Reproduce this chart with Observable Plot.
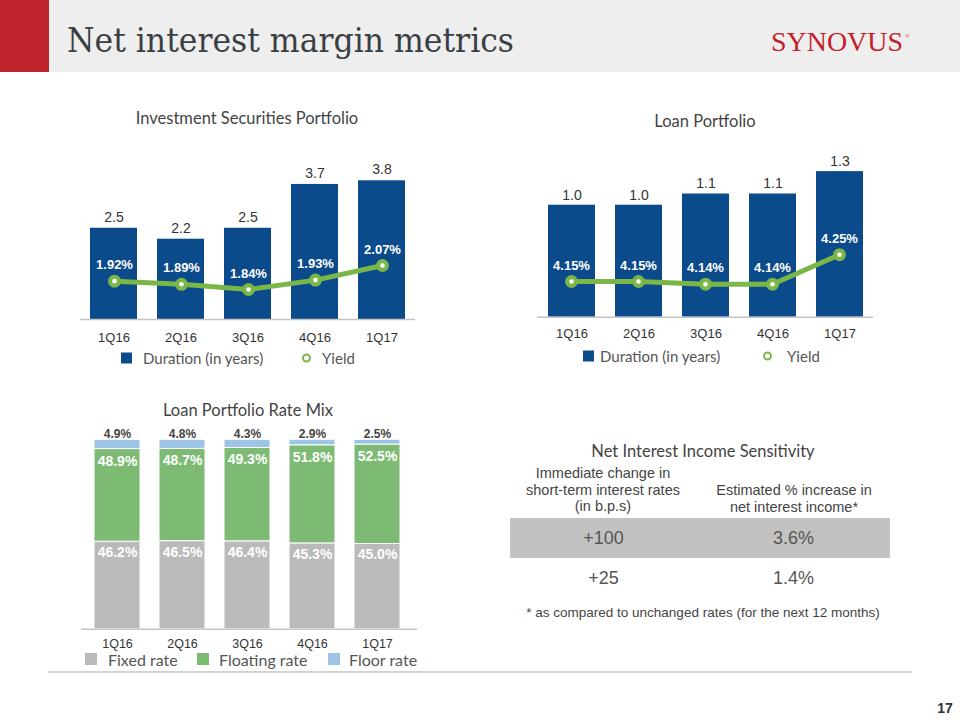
<!DOCTYPE html>
<html><head><meta charset="utf-8">
<script src="https://cdn.jsdelivr.net/npm/d3@7"></script>
<script src="https://cdn.jsdelivr.net/npm/@observablehq/plot@0.6"></script>
<style>
body{margin:0;background:#fff;}
#page{position:relative;width:960px;height:720px;overflow:hidden;font-family:Lato,"Liberation Sans",Arial,sans-serif;}
.c{position:absolute;transform:translate(-50%,-50%);white-space:nowrap;}
.l{position:absolute;transform:translateY(-50%);white-space:nowrap;}
.ttl{font-family:Lato,sans-serif;font-size:16.5px;color:#444;}
.leg{font-family:Lato,sans-serif;font-size:15px;color:#555;}
.tab{font-family:"Liberation Sans",Arial,sans-serif;font-size:14.5px;color:#444;}
svg{overflow:visible;}
</style></head>
<body><div id="page"></div>
<script>
// ---------------- data ----------------
const quarters = ["1Q16","2Q16","3Q16","4Q16","1Q17"];
const invDuration = [2.5, 2.2, 2.5, 3.7, 3.8];
const invYield = [1.92, 1.89, 1.84, 1.93, 2.07];
const loanDuration = [1.0, 1.0, 1.1, 1.1, 1.3];
const loanYield = [4.15, 4.15, 4.14, 4.14, 4.25];
const fixedRate = [46.2, 46.5, 46.4, 45.3, 45.0];
const floatingRate = [48.9, 48.7, 49.3, 51.8, 52.5];
const floorRate = [4.9, 4.8, 4.3, 2.9, 2.5];
const mixSeries = ["Fixed rate", "Floating rate", "Floor rate"];
const rateChange = ["+100", "+25"];
const niiIncrease = ["3.6%", "1.4%"];
const tableCols = ["Immediate change in short-term interest rates (in b.p.s)", "Estimated % increase in net interest income*"];
const headerCol1 = ["Immediate change in", "short-term interest rates", "(in b.p.s)"];
const headerCol2 = ["Estimated % increase in", "net interest income*"];
const footnote = "* as compared to unchanged rates (for the next 12 months)";

const navy = "#0b4a8b", green = "#7ab648";
const mixColors = ["#bababa", "#7dbb75", "#9dc3e6"];
const numFont = "Liberation Sans, Arial, sans-serif";

const page = document.getElementById("page");
function add(el, left, top) { el.style.position = "absolute"; el.style.left = left + "px"; el.style.top = top + "px"; page.appendChild(el); return el; }
function div(html, cls, x, y, extra) { const d = document.createElement("div"); d.className = cls; d.innerHTML = html; d.style.left = x + "px"; d.style.top = y + "px"; if (extra) Object.assign(d.style, extra); page.appendChild(d); return d; }

// ---------------- header ----------------
const hdr = document.createElement("div");
hdr.innerHTML = `<svg width="960" height="72" xmlns="http://www.w3.org/2000/svg">
<rect width="960" height="72" fill="#eeeeee"/>
<rect width="49" height="72" fill="#c0222b"/>
<text x="67" y="52" font-family="DejaVu Serif, serif" font-size="34" fill="#3a3f44" textLength="447" lengthAdjust="spacingAndGlyphs">Net interest margin metrics</text>
<text x="771" y="51" font-family="Liberation Serif, serif" font-size="27" fill="#c41e2b" textLength="132" lengthAdjust="spacingAndGlyphs">SYNOVUS</text>
<text x="905" y="38" font-family="Liberation Serif, serif" font-size="6" fill="#c41e2b">®</text>
</svg>`;
add(hdr, 0, 0);

// ---------------- duration + yield charts ----------------
function durationChart(dur, yld, o) {
  const data = quarters.map((q, i) => ({q, d: dur[i], y: yld[i]}));
  const common = {
    width: 370, height: 200, marginTop: 0, marginBottom: o.mb, marginLeft: o.ml, marginRight: o.mr,
    style: {background: "transparent", color: "#333", overflow: "visible"}
  };
  const bars = Plot.plot({
    ...common,
    x: {domain: quarters, paddingInner: 0.3, paddingOuter: 0.15, label: null},
    y: {domain: [0, o.ymax], axis: null},
    marks: [
      Plot.barY(data, {x: "q", y: "d", fill: navy}),
      Plot.ruleY([0], {stroke: "#c4c4c4", strokeWidth: 1.5}),
      Plot.text(data, {x: "q", y: "d", text: d => d.d.toFixed(1), dy: o.dy, fontSize: 14, fill: "#333", fontFamily: numFont}),
      Plot.axisX({tickSize: 0, tickPadding: o.tp, fontSize: 13, fontFamily: numFont, label: null})
    ]
  });
  const line = Plot.plot({
    ...common,
    x: {domain: quarters, paddingInner: 0.3, paddingOuter: 0.15, axis: null},
    y: {domain: o.ydom, axis: null},
    marks: [
      Plot.line(data, {x: "q", y: "y", stroke: green, strokeWidth: 5}),
      Plot.dot(data, {x: "q", y: "y", r: 6.5, fill: green}),
      Plot.dot(data, {x: "q", y: "y", r: 2.3, fill: "white"}),
      Plot.text(data, {x: "q", y: "y", text: d => d.y.toFixed(2) + "%", dy: -16, fill: "white", fontWeight: "bold", fontSize: 13, fontFamily: numFont})
    ]
  });
  add(bars, o.left, o.top);
  add(line, o.left, o.top);
}

durationChart(invDuration, invYield, {left: 60, top: 150, ml: 20, mr: 15, mb: 31, ymax: 169 / 36.5, ydom: [1.5524, 3.1727], dy: -11, tp: 13});
durationChart(loanDuration, loanYield, {left: 517, top: 150, ml: 20, mr: 14, mb: 33.3, ymax: 166.7 / 112, ydom: [4.0168, 4.639], dy: -10, tp: 12});

div("Investment Securities Portfolio", "c ttl", 247, 118);
div("Loan Portfolio", "c ttl", 705, 121);

function durLegend(x0, y, tx, rx, yx) {
  div("", "l", x0, y, {width: "11px", height: "11px", background: navy});
  div("Duration (in years)", "l leg", tx, y);
  div("", "l", rx - 4.5, y, {width: "5px", height: "5px", border: "2.2px solid " + green, borderRadius: "50%"});
  div("Yield", "l leg", yx, y);
}
durLegend(121, 358, 143, 306, 322);
durLegend(583, 356, 600, 767, 787);

// ---------------- rate mix stacked chart ----------------
const mixData = [];
quarters.forEach((q, i) => {
  [fixedRate[i], floatingRate[i], floorRate[i]].forEach((v, k) => mixData.push({q, series: mixSeries[k], v}));
});
const labelFixed = quarters.map((q, i) => ({q, top: fixedRate[i], v: fixedRate[i]}));
const labelFloat = quarters.map((q, i) => ({q, top: fixedRate[i] + floatingRate[i], v: floatingRate[i]}));
const labelFloor = quarters.map((q, i) => ({q, top: fixedRate[i] + floatingRate[i] + floorRate[i], v: floorRate[i]}));

const mix = Plot.plot({
  width: 370, height: 240, marginTop: 19.3, marginBottom: 31.3, marginLeft: 23, marginRight: 19,
  style: {background: "transparent", color: "#333", overflow: "visible"},
  x: {domain: quarters, paddingInner: 0.3, paddingOuter: 0.15, label: null},
  y: {domain: [0, 100], axis: null},
  color: {domain: mixSeries, range: mixColors},
  marks: [
    Plot.barY(mixData, {x: "q", y: "v", fill: "series", order: mixSeries, stroke: "white", strokeWidth: 1}),
    Plot.ruleY([0], {stroke: "#c4c4c4", strokeWidth: 1.5, insetRight: -6, insetLeft: -2}),
    Plot.text(labelFixed, {x: "q", y: "top", text: d => d.v.toFixed(1) + "%", dy: 11, fill: "white", fontWeight: 600, fontSize: 14, fontFamily: numFont}),
    Plot.text(labelFloat, {x: "q", y: "top", text: d => d.v.toFixed(1) + "%", dy: 12, fill: "white", fontWeight: "bold", fontSize: 14, fontFamily: numFont}),
    Plot.text(labelFloor, {x: "q", y: "top", text: d => d.v.toFixed(1) + "%", dy: -6, fill: "#444", fontWeight: 600, fontSize: 12, fontFamily: numFont}),
    Plot.axisX({tickSize: 0, tickPadding: 10, fontSize: 12.5, fontFamily: numFont, label: null})
  ]
});
add(mix, 60, 420);
div("Loan Portfolio Rate Mix", "c ttl", 248, 410);
[[85, 108], [197, 219], [328, 349]].forEach(([sx, tx], k) => {
  div("", "l", sx, 659, {width: "12px", height: "12px", background: mixColors[k]});
  div(mixSeries[k], "l leg", tx, 659, {fontSize: "16px"});
});

// ---------------- sensitivity table ----------------
div("Net Interest Income Sensitivity", "c ttl", 703, 451);
headerCol1.forEach((t, i) => div(t, "c tab", 603, 473 + i * 16.5));
headerCol2.forEach((t, i) => div(t, "c tab", 794, 490 + i * 16.5));

const cells = [];
rateChange.forEach((r, i) => {
  cells.push({row: r, col: tableCols[0], text: r, shade: i === 0});
  cells.push({row: r, col: tableCols[1], text: niiIncrease[i], shade: i === 0});
});
const table = Plot.plot({
  width: 400, height: 92, margin: 0,
  style: {background: "transparent", overflow: "visible"},
  x: {type: "band", domain: tableCols, range: [10, 390], padding: 0, axis: null},
  y: {type: "band", domain: rateChange, range: [5, 86], padding: 0, axis: null},
  marks: [
    Plot.cell(cells.filter(d => d.shade), {x: "col", y: "row", fill: "#c2c2c2", inset: 0}),
    Plot.text(cells, {x: "col", y: "row", text: "text", fontSize: 18, fill: "#555", fontFamily: numFont, dx: -2})
  ]
});
add(table, 500, 512);
div(footnote, "c tab", 703, 612, {fontSize: "13.5px"});

// ---------------- footer ----------------
div("", "", 48, 671, {position: "absolute", width: "864px", height: "2px", background: "#d2d2d2"});
div("17", "c", 945, 708, {fontFamily: numFont, fontWeight: "bold", fontSize: "14px", color: "#333"});
</script></body></html>
